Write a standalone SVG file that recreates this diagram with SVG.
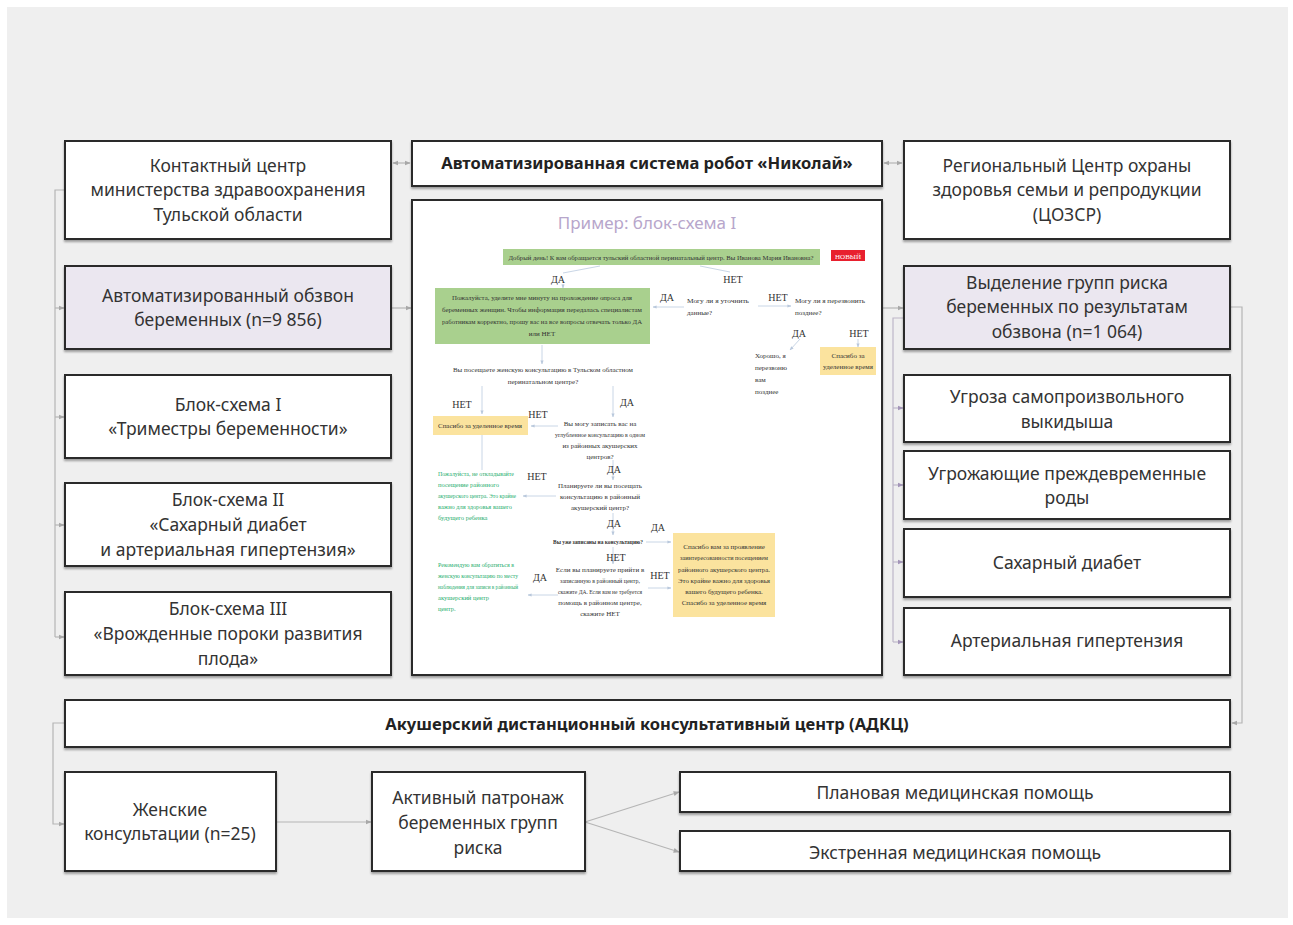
<svg xmlns="http://www.w3.org/2000/svg" width="1293" height="925" viewBox="0 0 1293 925">
<defs>
<style>
.box{fill:#fff;stroke:#2a2a2a;stroke-width:2;filter:url(#sh)}
.lav{fill:#ebe7f0}
.t{font-family:"Noto Sans","Open Sans",sans-serif;font-size:17.5px;fill:#333;text-anchor:middle}
.tb{font-family:"Noto Sans","Open Sans",sans-serif;font-size:16.5px;font-weight:bold;fill:#222;text-anchor:middle}
.con{fill:none;stroke:#b5b5b5;stroke-width:1.2}
.conp{fill:none;stroke:#bdb6c8;stroke-width:1.2}
.fl{fill:none;stroke:#c9d6e6;stroke-width:1}
.s{font-family:"Liberation Serif","Times New Roman",serif;font-size:7px;fill:#333;text-anchor:middle}
.sl{font-family:"Liberation Serif","Times New Roman",serif;font-size:7px;fill:#333;text-anchor:start}
.sg{font-family:"Liberation Serif","Times New Roman",serif;font-size:6.5px;fill:#1fae6e;text-anchor:start}
.yn{font-family:"Liberation Serif","Times New Roman",serif;font-size:10px;fill:#333;text-anchor:middle}
</style>
<filter id="sh" x="-5%" y="-10%" width="110%" height="130%">
<feDropShadow dx="0" dy="2" stdDeviation="1.2" flood-color="#000" flood-opacity="0.35"/>
</filter>
<marker id="ar" viewBox="0 0 10 10" refX="9" refY="5" markerWidth="5" markerHeight="5" orient="auto-start-reverse">
<path d="M0,1 L10,5 L0,9 z" fill="#a8a8a8"/>
</marker>
<marker id="arp" viewBox="0 0 10 10" refX="9" refY="5" markerWidth="5" markerHeight="5" orient="auto-start-reverse">
<path d="M0,1 L10,5 L0,9 z" fill="#a395b8"/>
</marker>
<marker id="af" viewBox="0 0 10 10" refX="9" refY="5" markerWidth="4" markerHeight="4" orient="auto">
<path d="M0,1 L10,5 L0,9 z" fill="#b9c8dc"/>
</marker>
</defs>

<rect x="0" y="0" width="1293" height="925" fill="#ffffff"/>
<rect x="7" y="7" width="1281" height="911" fill="#efefef"/>

<g id="connectors">
<path class="con" d="M65 190 H55 V637"/>
<path class="con" d="M55 308 H64" marker-end="url(#ar)"/>
<path class="con" d="M55 417 H64" marker-end="url(#ar)"/>
<path class="con" d="M55 525 H64" marker-end="url(#ar)"/>
<path class="con" d="M55 637 H64" marker-end="url(#ar)"/>
<path class="con" d="M393 163 H410" marker-start="url(#ar)" marker-end="url(#ar)"/>
<path class="con" d="M884 163 H902" marker-start="url(#ar)" marker-end="url(#ar)"/>
<path class="con" d="M391 308 H411" marker-end="url(#ar)"/>
<path class="con" d="M882 308 H903" marker-end="url(#ar)"/>
<path class="conp" d="M904 318 H893 V642"/>
<path class="conp" d="M893 408 H903" marker-end="url(#arp)"/>
<path class="conp" d="M893 485 H903" marker-end="url(#arp)"/>
<path class="conp" d="M893 562 H903" marker-end="url(#arp)"/>
<path class="conp" d="M893 642 H903" marker-end="url(#arp)"/>
<path class="con" d="M1230 307 H1242 V723 H1232" marker-end="url(#ar)"/>
<path class="con" d="M65 723 H53 V824 H64" marker-end="url(#ar)"/>
<path class="con" d="M276 822 H371" marker-end="url(#ar)"/>
<path class="con" d="M585 822 L679 792" marker-end="url(#ar)"/>
<path class="con" d="M585 822 L679 852" marker-end="url(#ar)"/>
</g>

<g id="n-contact">
<rect class="box" x="65" y="141" width="326" height="98"/>
<text class="t" x="228" y="172">Контактный центр</text>
<text class="t" x="228" y="196">министерства здравоохранения</text>
<text class="t" x="228" y="221">Тульской области</text>
</g>
<g id="n-obzvon">
<rect class="box lav" x="65" y="266" width="326" height="83"/>
<text class="t" x="228" y="302">Автоматизированный обзвон</text>
<text class="t" x="228" y="326">беременных (n=9 856)</text>
</g>
<g id="n-bs1">
<rect class="box" x="65" y="375" width="326" height="83"/>
<text class="t" x="228" y="411">Блок-схема  I</text>
<text class="t" x="228" y="435">«Триместры беременности»</text>
</g>
<g id="n-bs2">
<rect class="box" x="65" y="483" width="326" height="83"/>
<text class="t" x="228" y="506">Блок-схема II</text>
<text class="t" x="228" y="531">«Сахарный диабет</text>
<text class="t" x="228" y="556">и артериальная гипертензия»</text>
</g>
<g id="n-bs3">
<rect class="box" x="65" y="592" width="326" height="83"/>
<text class="t" x="228" y="615">Блок-схема III</text>
<text class="t" x="228" y="640">«Врожденные пороки развития</text>
<text class="t" x="228" y="665">плода»</text>
</g>

<g id="n-robot">
<rect class="box" x="412" y="141" width="470" height="45"/>
<text class="tb" x="647" y="169">Автоматизированная система робот «Николай»</text>
</g>

<g id="n-example">
<rect class="box" x="412" y="200" width="470" height="475"/>
<text x="647" y="229" font-family="Noto Sans, sans-serif" font-size="17" fill="#b7a6cb" text-anchor="middle">Пример: блок-схема I</text>
<g id="flow">
<path class="fl" d="M600 266 L563 273"/>
<path class="fl" d="M700 266 L730 272"/>
<path class="fl" d="M563 284 V288" marker-end="url(#af)"/>
<path class="fl" d="M684 307 H653" marker-end="url(#af)"/>
<path class="fl" d="M758 306 H791" marker-end="url(#af)"/>
<path class="fl" d="M800 339 L790 350" marker-end="url(#af)"/>
<path class="fl" d="M858 339 V347" marker-end="url(#af)"/>
<path class="fl" d="M542 345 V364" marker-end="url(#af)"/>
<path class="fl" d="M482 386 V414" marker-end="url(#af)"/>
<path class="fl" d="M613 386 V417" marker-end="url(#af)"/>
<path class="fl" d="M558 426 H531" marker-end="url(#af)"/>
<path class="fl" d="M482 435 V470"/>
<path class="fl" d="M613 460 V480" marker-end="url(#af)"/>
<path class="fl" d="M556 496 H523" marker-end="url(#af)"/>
<path class="fl" d="M613 513 V535" marker-end="url(#af)"/>
<path class="fl" d="M646 542 H671" marker-end="url(#af)"/>
<path class="fl" d="M613 547 V564" marker-end="url(#af)"/>
<path class="fl" d="M558 595 H528" marker-end="url(#af)"/>
<path class="fl" d="M648 588 H671" marker-end="url(#af)"/>

<rect x="503" y="249" width="317" height="16" fill="#a9d08e"/>
<text class="s" x="661" y="260" textLength="305" lengthAdjust="spacingAndGlyphs">Добрый день! К вам обращается тульский областной перинатальный центр. Вы Иванова Мария Ивановна?</text>
<rect x="831" y="250" width="34" height="11" fill="#e8202e"/>
<text x="848" y="258.5" font-family="Liberation Serif, serif" font-size="7" fill="#fff" text-anchor="middle">НОВЫЙ</text>
<text class="yn" x="558" y="283">ДА</text>
<text class="yn" x="733" y="283">НЕТ</text>

<rect x="435" y="288" width="215" height="56" fill="#a9d08e"/>
<text class="s" x="542" y="300" textLength="180" lengthAdjust="spacingAndGlyphs">Пожалуйста, уделите мне минуту на прохождение опроса для</text>
<text class="s" x="542" y="312" textLength="200" lengthAdjust="spacingAndGlyphs">беременных женщин. Чтобы информация передалась специалистам</text>
<text class="s" x="542" y="324" textLength="200" lengthAdjust="spacingAndGlyphs">работникам корректно, прошу вас на все вопросы отвечать только ДА</text>
<text class="s" x="542" y="336">или НЕТ</text>

<text class="yn" x="667" y="301">ДА</text>
<text class="sl" x="687" y="303" textLength="62" lengthAdjust="spacingAndGlyphs">Могу ли я уточнить</text>
<text class="sl" x="687" y="315">данные?</text>
<text class="yn" x="778" y="301">НЕТ</text>
<text class="sl" x="795" y="303" textLength="70" lengthAdjust="spacingAndGlyphs">Могу ли я перезвонить</text>
<text class="sl" x="795" y="315">позднее?</text>
<text class="yn" x="799" y="337">ДА</text>
<text class="yn" x="859" y="337">НЕТ</text>
<text class="sl" x="755" y="358">Хорошо, я</text>
<text class="sl" x="755" y="370">перезвоню</text>
<text class="sl" x="755" y="382">вам</text>
<text class="sl" x="755" y="394">позднее</text>
<rect x="820" y="347" width="56" height="28" fill="#fbe39e"/>
<text class="s" x="848" y="358">Спасибо за</text>
<text class="s" x="848" y="369">уделенное время</text>

<text class="s" x="543" y="372" textLength="180" lengthAdjust="spacingAndGlyphs">Вы посещаете женскую консультацию в Тульском областном</text>
<text class="s" x="543" y="384">перинатальном центре?</text>
<text class="yn" x="462" y="408">НЕТ</text>
<text class="yn" x="627" y="406">ДА</text>
<text class="yn" x="538" y="418">НЕТ</text>
<rect x="433" y="416" width="95" height="19" fill="#fbe39e"/>
<text class="s" x="480" y="428" textLength="84" lengthAdjust="spacingAndGlyphs">Спасибо за уделенное время</text>
<text class="s" x="600" y="426">Вы могу записать вас на</text>
<text class="s" x="600" y="437" textLength="90" lengthAdjust="spacingAndGlyphs">углубленное консультацию в одном</text>
<text class="s" x="600" y="448">из районных акушерских</text>
<text class="s" x="600" y="459">центров?</text>
<text class="yn" x="614" y="473">ДА</text>
<text class="yn" x="537" y="480">НЕТ</text>
<text class="sg" x="438" y="476" textLength="76" lengthAdjust="spacingAndGlyphs">Пожалуйста, не откладывайте</text>
<text class="sg" x="438" y="487">посещение районного</text>
<text class="sg" x="438" y="498" textLength="78" lengthAdjust="spacingAndGlyphs">акушерского центра. Это крайне</text>
<text class="sg" x="438" y="509" textLength="74" lengthAdjust="spacingAndGlyphs">важно для здоровья вашего</text>
<text class="sg" x="438" y="520">будущего ребенка</text>
<text class="s" x="600" y="488">Планируете ли вы посещать</text>
<text class="s" x="600" y="499" textLength="80" lengthAdjust="spacingAndGlyphs">консультацию в районный</text>
<text class="s" x="600" y="510">акушерский центр?</text>
<text class="yn" x="614" y="527">ДА</text>
<text class="yn" x="658" y="531">ДА</text>
<text class="s" x="598" y="544" font-weight="bold" textLength="90" lengthAdjust="spacingAndGlyphs">Вы уже записаны на консультацию?</text>
<text class="yn" x="616" y="561">НЕТ</text>
<text class="s" x="600" y="572">Если вы планируете прийти в</text>
<text class="s" x="600" y="583" textLength="80" lengthAdjust="spacingAndGlyphs">записанную в районный центр,</text>
<text class="s" x="600" y="594" textLength="84" lengthAdjust="spacingAndGlyphs">скажите ДА. Если вам не требуется</text>
<text class="s" x="600" y="605">помощь в районном центре,</text>
<text class="s" x="600" y="616">скажите НЕТ</text>
<text class="yn" x="540" y="581">ДА</text>
<text class="yn" x="660" y="579">НЕТ</text>
<text class="sg" x="438" y="567" textLength="76" lengthAdjust="spacingAndGlyphs">Рекомендую вам обратиться в</text>
<text class="sg" x="438" y="578" textLength="80" lengthAdjust="spacingAndGlyphs">женскую консультацию по месту</text>
<text class="sg" x="438" y="589" textLength="80" lengthAdjust="spacingAndGlyphs">наблюдения для записи в районный</text>
<text class="sg" x="438" y="600">акушерский центр</text>
<text class="sg" x="438" y="611">центр.</text>
<rect x="673" y="533" width="102" height="84" fill="#fbe39e"/>
<text class="s" x="724" y="549">Спасибо вам за проявление</text>
<text class="s" x="724" y="560" textLength="88" lengthAdjust="spacingAndGlyphs">заинтересованности посещением</text>
<text class="s" x="724" y="572" textLength="92" lengthAdjust="spacingAndGlyphs">районного акушерского центра.</text>
<text class="s" x="724" y="583" textLength="92" lengthAdjust="spacingAndGlyphs">Это крайне важно для здоровья</text>
<text class="s" x="724" y="594">вашего будущего ребенка.</text>
<text class="s" x="724" y="605">Спасибо за уделенное время</text>
</g>
</g>

<g id="n-cozsr">
<rect class="box" x="904" y="141" width="326" height="98"/>
<text class="t" x="1067" y="172">Региональный Центр охраны</text>
<text class="t" x="1067" y="196">здоровья семьи и репродукции</text>
<text class="t" x="1067" y="221">(ЦОЗСР)</text>
</g>
<g id="n-risk">
<rect class="box lav" x="904" y="266" width="326" height="83"/>
<text class="t" x="1067" y="289">Выделение групп риска</text>
<text class="t" x="1067" y="313">беременных по результатам</text>
<text class="t" x="1067" y="338">обзвона (n=1 064)</text>
</g>
<g id="n-ugroza">
<rect class="box" x="904" y="375" width="326" height="67"/>
<text class="t" x="1067" y="403">Угроза самопроизвольного</text>
<text class="t" x="1067" y="428">выкидыша</text>
</g>
<g id="n-rody">
<rect class="box" x="904" y="451" width="326" height="68"/>
<text class="t" x="1067" y="480">Угрожающие преждевременные</text>
<text class="t" x="1067" y="504">роды</text>
</g>
<g id="n-diabet">
<rect class="box" x="904" y="529" width="326" height="68"/>
<text class="t" x="1067" y="569">Сахарный диабет</text>
</g>
<g id="n-ag">
<rect class="box" x="904" y="608" width="326" height="67"/>
<text class="t" x="1067" y="647">Артериальная гипертензия</text>
</g>

<g id="n-adkc">
<rect class="box" x="65" y="700" width="1165" height="47"/>
<text class="tb" x="647" y="730">Акушерский дистанционный консультативный центр (АДКЦ)</text>
</g>
<g id="n-zk">
<rect class="box" x="65" y="772" width="211" height="99"/>
<text class="t" x="170" y="816">Женские</text>
<text class="t" x="170" y="840">консультации (n=25)</text>
</g>
<g id="n-patr">
<rect class="box" x="372" y="772" width="213" height="99"/>
<text class="t" x="478" y="804">Активный патронаж</text>
<text class="t" x="478" y="829">беременных групп</text>
<text class="t" x="478" y="854">риска</text>
</g>
<g id="n-plan">
<rect class="box" x="680" y="772" width="550" height="40"/>
<text class="t" x="955" y="799">Плановая медицинская помощь</text>
</g>
<g id="n-extr">
<rect class="box" x="680" y="831" width="550" height="40"/>
<text class="t" x="955" y="859">Экстренная медицинская помощь</text>
</g>
</svg>
